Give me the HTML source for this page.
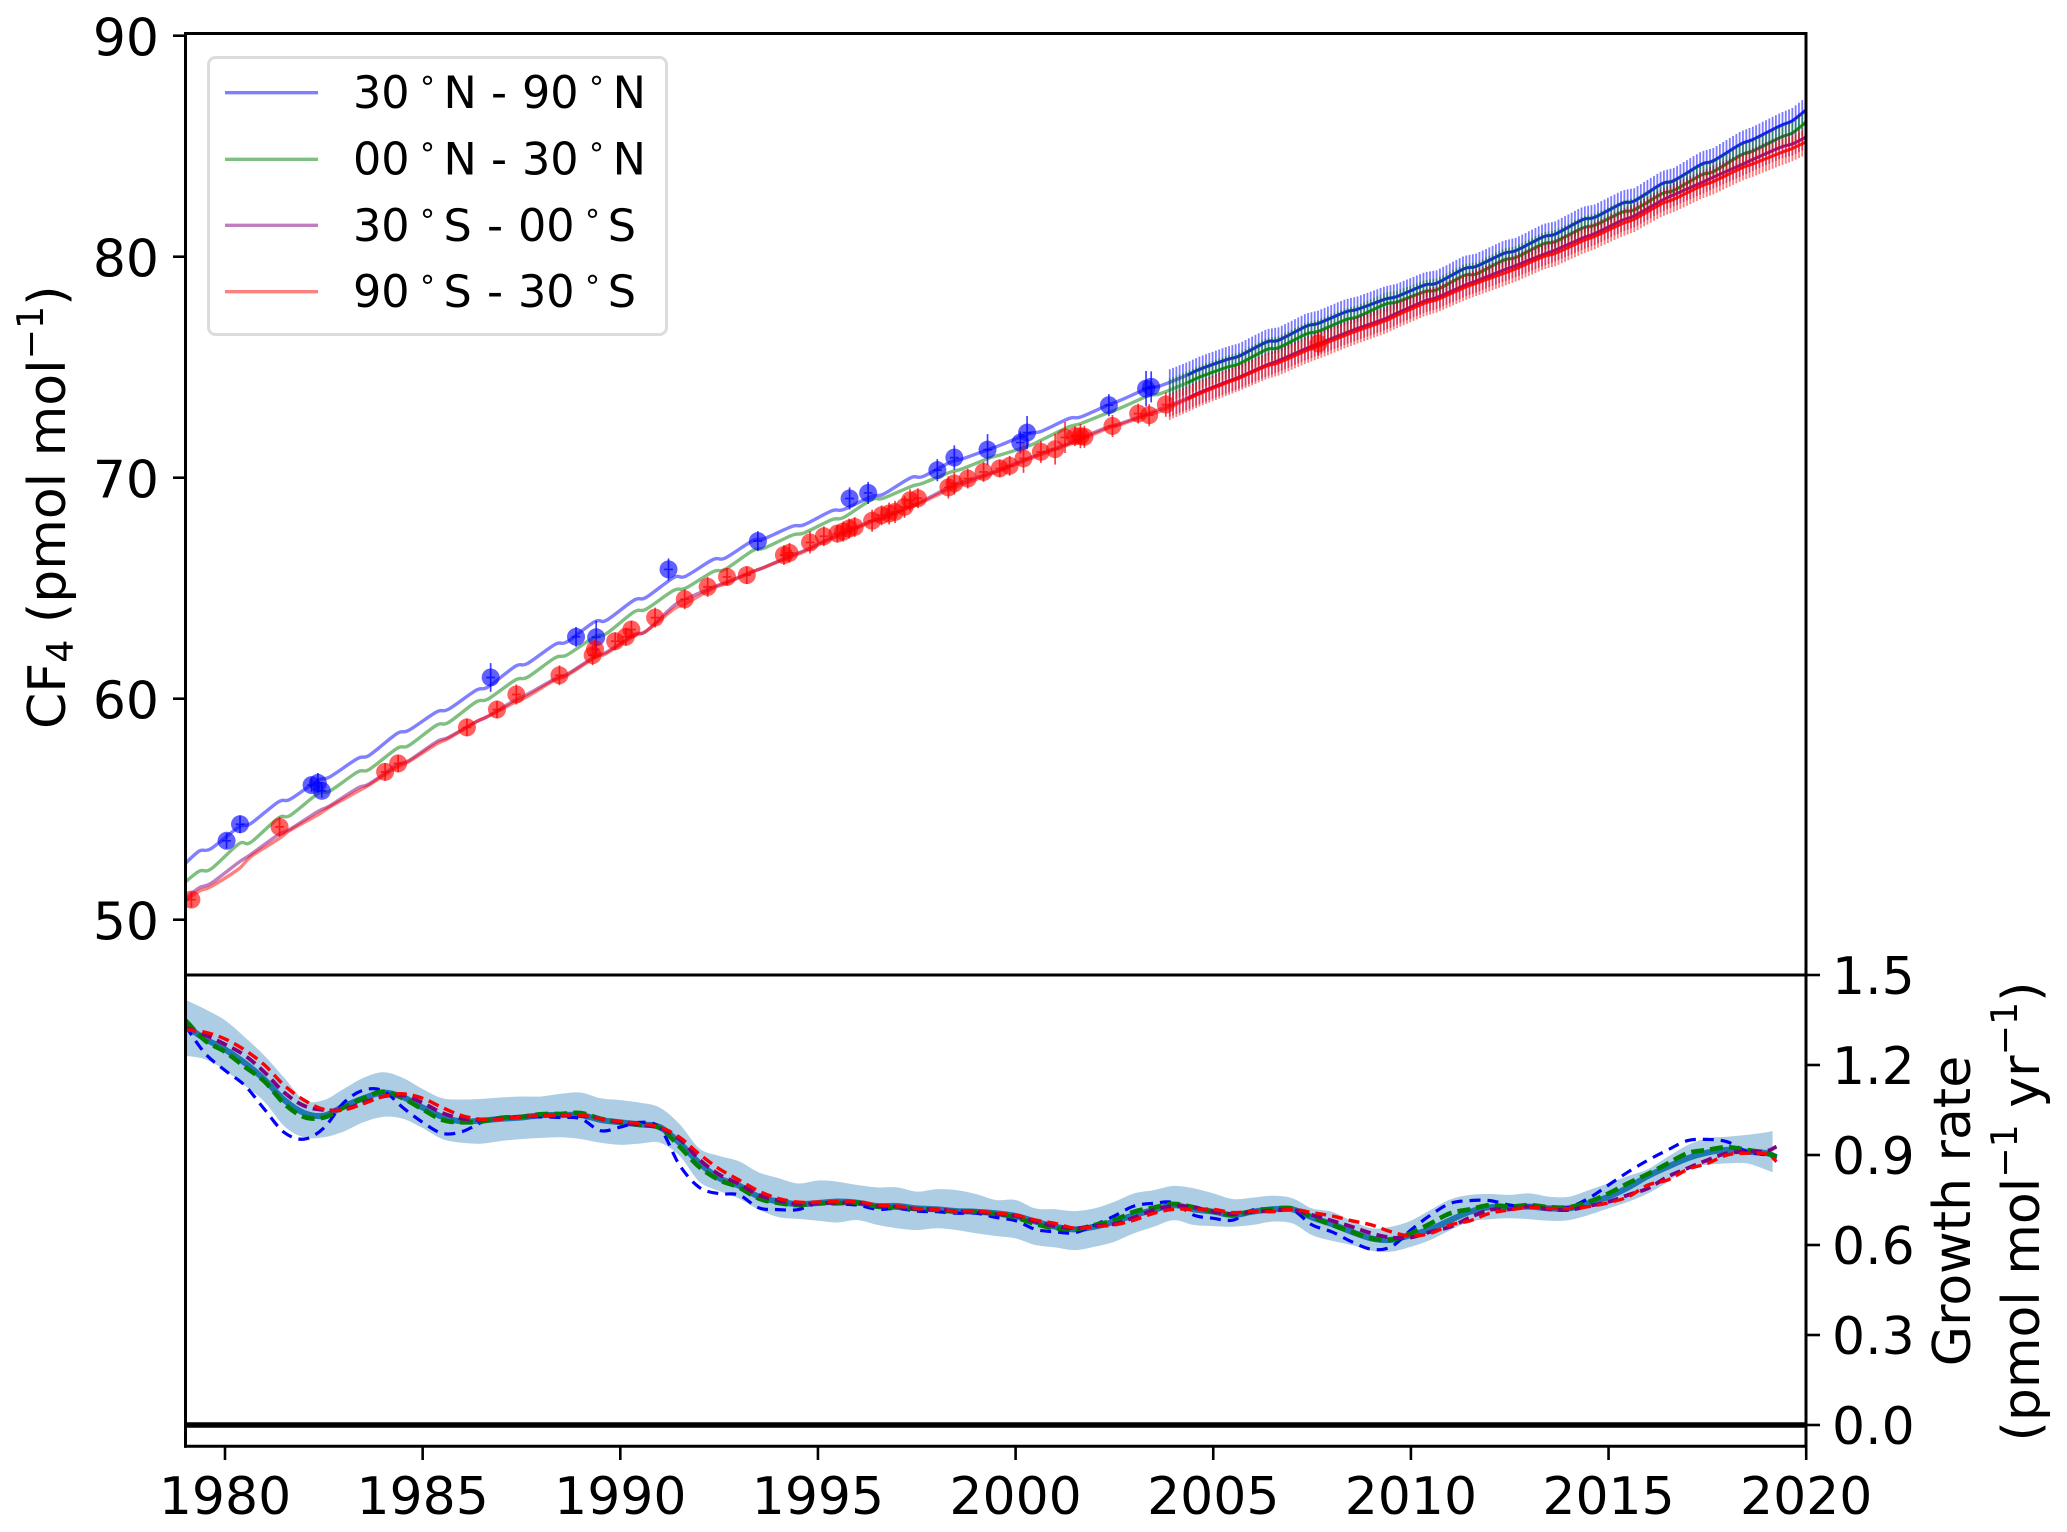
<!DOCTYPE html>
<html lang="en">
<head>
<meta charset="utf-8">
<title>CF4 mole fraction and growth rate</title>
<style>
html,body{margin:0;padding:0;background:#fff}
svg{display:block}
text{font-family:"DejaVu Sans","Liberation Sans",sans-serif;fill:#000}
</style>
</head>
<body>
<svg id="chart" xmlns="http://www.w3.org/2000/svg" width="2067" height="1532" viewBox="0 0 2067 1532">
<defs>
<clipPath id="top-clip"><rect x="185.5" y="33.5" width="1620.5" height="941.5"/></clipPath>
<clipPath id="low-clip"><rect x="185.5" y="975" width="1620.5" height="471.5"/></clipPath>
</defs>
<rect width="2067" height="1532" fill="#fff"/>
<g id="top-marks" clip-path="url(#top-clip)"></g>
<g id="low-marks" clip-path="url(#low-clip)"></g>
<line x1="185" x2="1806" y1="1425" y2="1425" stroke="#000" stroke-width="5.6"/>
<g id="axes" stroke="#000" stroke-width="3" fill="none">
<line x1="185.5" x2="185.5" y1="32" y2="1447.8"/>
<line x1="1806" x2="1806" y1="32" y2="1447.8"/>
<line x1="184" x2="1807.5" y1="33.5" y2="33.5"/>
<line x1="184" x2="1807.5" y1="975" y2="975"/>
<line x1="184" x2="1807.5" y1="1446.3" y2="1446.3"/>
</g>
<g id="ticks"></g>
<text transform="translate(65,729) rotate(-90)" font-size="52">CF<tspan font-size="36.4" dy="8">4</tspan><tspan dy="-8"> (pmol mol</tspan><tspan font-size="36.4" dy="-22">−1</tspan><tspan dy="22">)</tspan></text>
<text transform="translate(1970,1211) rotate(-90)" font-size="52" text-anchor="middle">Growth rate</text>
<text transform="translate(2039,1211.5) rotate(-90)" font-size="52" text-anchor="middle">(pmol mol<tspan font-size="36.4" dy="-22">−1</tspan><tspan dy="22"> yr</tspan><tspan font-size="36.4" dy="-22">−1</tspan><tspan dy="22">)</tspan></text>
<g>
<rect x="208.5" y="57.5" width="458" height="277" rx="7" fill="#fff" fill-opacity=".85" stroke="#dcdcdc" stroke-width="3"/>
<line x1="225" x2="318" y1="92.7" y2="92.7" stroke="#00f" stroke-opacity=".5" stroke-width="3.4"/>
<line x1="225" x2="318" y1="159.3" y2="159.3" stroke="#008000" stroke-opacity=".5" stroke-width="3.4"/>
<line x1="225" x2="318" y1="225.3" y2="225.3" stroke="#800080" stroke-opacity=".5" stroke-width="3.4"/>
<line x1="225" x2="318" y1="291.7" y2="291.7" stroke="#f00" stroke-opacity=".5" stroke-width="3.4"/>
<text font-size="44.5" y="108"><tspan x="353">30</tspan><tspan x="420" dy="-10" font-size="30">°</tspan><tspan x="443.5" dy="10">N</tspan><tspan x="491">-</tspan><tspan x="522">90</tspan><tspan x="589" dy="-10" font-size="30">°</tspan><tspan x="612.6" dy="10">N</tspan></text>
<text font-size="44.5" y="174.5"><tspan x="353">00</tspan><tspan x="420" dy="-10" font-size="30">°</tspan><tspan x="443.5" dy="10">N</tspan><tspan x="491">-</tspan><tspan x="522">30</tspan><tspan x="589" dy="-10" font-size="30">°</tspan><tspan x="612.6" dy="10">N</tspan></text>
<text font-size="44.5" y="241"><tspan x="353">30</tspan><tspan x="420" dy="-10" font-size="30">°</tspan><tspan x="443.5" dy="10">S</tspan><tspan x="487">-</tspan><tspan x="518">00</tspan><tspan x="585" dy="-10" font-size="30">°</tspan><tspan x="607.7" dy="10">S</tspan></text>
<text font-size="44.5" y="307"><tspan x="353">90</tspan><tspan x="420" dy="-10" font-size="30">°</tspan><tspan x="443.5" dy="10">S</tspan><tspan x="487">-</tspan><tspan x="518">30</tspan><tspan x="585" dy="-10" font-size="30">°</tspan><tspan x="607.7" dy="10">S</tspan></text>
</g>
</svg>
<script>
/* ---------- axis tick labels ---------- */
const xTickYears = [1980,1985,1990,1995,2000,2005,2010,2015,2020];
const concentrationTicks = [50,60,70,80,90];
const growthTicks = ['0.0','0.3','0.6','0.9','1.2','1.5'];

/* ---------- upper panel: zonal mean lines (pmol/mol) ---------- */
const lineTimes = [1979,
1979.35,1979.65,1980.35,1980.65,1981.35,1981.65,1982.35,1982.65,1983.35,1983.65,
1984.35,1984.65,1985.35,1985.65,1986.35,1986.65,1987.35,1987.65,1988.35,1988.65,
1989.35,1989.65,1990.35,1990.65,1991.35,1991.65,1992.35,1992.65,1993.35,1993.65,
1994.35,1994.65,1995.35,1995.65,1996.35,1996.65,1997.35,1997.65,1998.35,1998.65,
1999.35,1999.65,2000.35,2000.65,2001.35,2001.65,2002.35,2002.65,2003.35,2003.65,
2004.35,2004.65,2005.35,2005.65,2006.35,2006.65,2007.35,2007.65,2008.35,2008.65,
2009.35,2009.65,2010.35,2010.65,2011.35,2011.65,2012.35,2012.65,2013.35,2013.65,
2014.35,2014.65,2015.35,2015.65,2016.35,2016.65,2017.35,2017.65,2018.35,2018.65,
2019.35,2019.65,2020];
const north3090 = [52.55,
53.11,53.22,54.2,54.35,55.33,55.45,56.3,56.46,57.29,57.44,
58.42,58.57,59.4,59.52,60.38,60.53,61.47,61.59,62.46,62.57,
63.48,63.55,64.46,64.58,65.48,65.54,66.3,66.36,67.15,67.25,
67.8,67.87,68.5,68.56,69.15,69.25,70.0,70.05,70.7,70.85,
71.3,71.5,72.0,72.1,72.68,72.75,73.3,73.5,74.05,74.15,
74.65,74.9,75.35,75.5,76.14,76.22,76.85,76.98,77.5,77.62,
78.08,78.2,78.72,78.8,79.46,79.56,80.15,80.27,80.9,81.02,
81.68,81.78,82.42,82.52,83.3,83.44,84.18,84.34,85.1,85.3,
85.93,86.15,86.65];
const north0030 = [51.71,
52.2,52.3,53.43,53.5,54.6,54.72,55.7,55.82,56.68,56.8,
57.75,57.88,58.8,58.92,59.85,59.98,60.85,60.97,61.85,61.98,
62.8,62.95,63.93,64.05,64.9,65.0,65.75,65.85,66.7,66.82,
67.4,67.5,68.1,68.2,69.0,69.07,69.6,69.75,70.25,70.4,
70.9,71.05,71.45,71.7,72.3,72.45,72.95,73.15,73.7,73.8,
74.3,74.55,75.0,75.15,75.8,75.88,76.5,76.62,77.15,77.28,
77.85,77.95,78.42,78.5,79.15,79.22,79.85,79.96,80.58,80.68,
81.3,81.42,82.02,82.12,82.85,83.0,83.7,83.85,84.6,84.78,
85.4,85.6,86.1];
const south3000 = [50.95,
51.45,51.65,52.6,52.95,53.85,54.1,54.9,55.15,55.95,56.15,
57.0,57.2,58.05,58.25,58.95,59.2,59.95,60.2,60.9,61.1,
61.9,62.1,62.9,63.05,64.2,64.5,65.05,65.25,65.75,65.95,
66.5,66.7,67.3,67.5,68.05,68.2,68.7,68.95,69.6,69.8,
70.2,70.4,70.9,71.1,71.55,71.8,72.3,72.45,72.9,73.1,
73.6,73.85,74.35,74.55,75.1,75.3,75.85,76.05,76.55,76.75,
77.2,77.45,78.0,78.15,78.7,78.9,79.4,79.6,80.1,80.3,
80.85,81.05,81.65,81.85,82.55,82.8,83.35,83.6,84.15,84.4,
84.95,85.1,85.42];
const south9030 = [50.85,
51.3,51.5,52.3,52.85,53.65,54.05,54.75,55.1,55.8,56.1,
56.9,57.15,57.95,58.2,58.95,59.2,59.85,60.1,60.85,61.05,
61.85,62.05,62.85,63.05,64.05,64.3,65.0,65.2,65.75,65.95,
66.45,66.65,67.25,67.45,68.0,68.15,68.7,68.9,69.5,69.7,
70.15,70.35,70.85,71.05,71.5,71.72,72.25,72.4,72.85,73.0,
73.55,73.8,74.3,74.5,75.05,75.2,75.75,75.95,76.45,76.65,
77.1,77.35,77.9,78.05,78.6,78.8,79.25,79.45,80.0,80.15,
80.72,80.92,81.5,81.7,82.4,82.6,83.2,83.4,84.0,84.2,
84.7,84.9,85.2];

/* ---------- upper panel: firn / sample points ---------- */
const blueDotYears = [1980.04,1980.38,1982.19,1982.35,1982.45,1986.72,1988.88,1989.39,1991.22,1993.48,1995.8,1996.27,1998.02,1998.45,1999.29,2000.12,2000.29,2002.36,2003.3,2003.43];
const blueDotValues = [53.57,54.32,56.09,56.19,55.83,60.96,62.8,62.78,65.85,67.13,69.06,69.31,70.34,70.91,71.27,71.59,72.04,73.28,74.03,74.11];
const blueDotErrors = [.35,.4,.3,.45,.3,.65,.45,.75,.5,.45,.5,.5,.5,.55,.7,.5,.75,.5,.8,.7];
const redDotYears = [1979.15,1981.38,1984.05,1984.38,1986.12,1986.88,1987.37,1988.46,1989.3,1989.36,1989.87,1990.14,1990.28,1990.88,1991.63,1992.21,1992.7,1993.2,1994.14,1994.28,1994.8,1995.15,1995.49,1995.64,1995.79,1995.93,1996.37,1996.61,1996.8,1996.95,1997.19,1997.33,1997.53,1998.3,1998.45,1998.79,1999.19,1999.6,1999.85,2000.2,2000.64,2001.0,2001.25,2001.5,2001.64,2001.74,2002.45,2003.1,2003.38,2003.8,2007.66];
const redDotValues = [50.91,54.2,56.69,57.07,58.7,59.51,60.19,61.06,61.97,62.24,62.6,62.8,63.13,63.67,64.5,65.06,65.51,65.59,66.5,66.6,67.07,67.35,67.47,67.56,67.7,67.77,68.05,68.3,68.38,68.45,68.68,68.98,69.07,69.56,69.74,69.96,70.26,70.42,70.54,70.87,71.17,71.29,71.82,71.88,71.88,71.85,72.34,72.9,72.83,73.31,76.07];
const redDotErrors = [.35,.45,.4,.4,.4,.4,.45,.45,.45,.45,.4,.4,.4,.45,.45,.45,.4,.4,.45,.45,.5,.45,.4,.45,.45,.45,.5,.45,.5,.5,.5,.5,.45,.5,.5,.45,.45,.4,.45,.65,.5,.7,.7,.45,.55,.5,.5,.45,.5,.55,.55];

/* half-height of the dense monthly error bars after 2004, one per band */
const errorHalfHeights = [.58,.52,.52,.58];
const errorBarFirstYear = [2003.9];

/* ---------- lower panel: growth rate (pmol/mol/yr) ---------- */
const growthTimes = [1979,1979.5,1980,1980.5,1981,1981.5,1982,1982.5,1983,1983.5,1984,1984.5,1985,1985.5,1986,1986.5,1987,1987.5,1988,1988.5,1989,1989.5,1990,1990.5,1991,1991.5,1992,1992.5,1993,1993.5,1994,1994.5,1995,1995.5,1996,1996.5,1997,1997.5,1998,1998.5,1999,1999.5,2000,2000.5,2001,2001.5,2002,2002.5,2003,2003.5,2004,2004.5,2005,2005.5,2006,2006.5,2007,2007.5,2008,2008.5,2009,2009.5,2010,2010.5,2011,2011.5,2012,2012.5,2013,2013.5,2014,2014.5,2015,2015.5,2016,2016.5,2017,2017.5,2018,2018.5,2019,2019.25];
const growthMean = [1.33,1.287,1.252,1.207,1.151,1.083,1.04,1.031,1.062,1.089,1.108,1.093,1.058,1.027,1.012,1.015,1.021,1.025,1.033,1.033,1.033,1.017,1.009,1.002,.993,.94,.873,.823,.798,.761,.745,.736,.74,.745,
.741,.73,.73,.722,.719,.713,.711,.706,.697,.678,.661,.652,.661,.678,.7,.717,.733,
.719,.711,.7,.711,.719,.719,.692,.67,.644,.622,.617,.633,.653,.683,.711,.726,.726,.728,
.722,.722,.739,.761,.792,.83,.861,.889,.908,.917,.911,.906,.892];
const growthUpper = [1.417,1.386,1.349,1.293,1.231,1.157,1.083,1.083,1.12,1.157,1.176,1.157,1.12,1.089,1.085,1.087,1.092,1.095,1.095,1.104,1.108,1.089,1.083,1.074,1.058,1.003,.922,.897,.879,.842,.823,.805,.815,.811,
.8,.792,.792,.778,.786,.783,.77,.75,.75,.722,.719,.713,.722,.744,.772,.783,.797,
.789,.772,.753,.758,.764,.756,.722,.711,.681,.656,.661,.681,.717,.752,.767,.77,.767,.772,
.761,.761,.783,.806,.83,.853,.894,.933,.956,.961,.967,.976,.98];
const growthLower = [1.231,1.219,1.182,1.132,1.077,.996,.959,.959,.978,1.009,1.027,1.021,.99,.953,.941,.938,.947,.953,.957,.959,.953,.941,.934,.938,.941,.897,.811,.78,.755,.718,.693,.687,.681,.675,
.683,.667,.656,.65,.656,.65,.639,.63,.622,.6,.592,.583,.594,.611,.639,.661,.683,
.667,.663,.661,.667,.678,.672,.633,.614,.6,.581,.578,.594,.617,.65,.678,.686,.689,.686,
.681,.683,.7,.722,.744,.772,.811,.856,.867,.872,.872,.85,.842];
const growthNorth3090 = [1.33,1.238,1.182,1.132,1.052,.975,.953,.99,1.074,1.116,1.114,1.058,1.009,.972,.978,1.009,1.025,1.027,1.027,1.025,1.021,.981,.993,1.009,.99,.866,.792,.771,.767,.724,.718,.718,.74,.737,
.733,.719,.722,.713,.711,.706,.706,.692,.681,.652,.644,.641,.667,.697,.73,.739,.741,
.7,.689,.683,.717,.719,.717,.667,.644,.611,.586,.594,.65,.7,.739,.748,.748,.733,.728,
.722,.726,.756,.8,.844,.883,.917,.948,.952,.944,.911,.9,.889];
const growthNorth0030 = [1.349,1.281,1.244,1.194,1.145,1.071,1.027,1.025,1.058,1.089,1.111,1.089,1.052,1.017,1.009,1.012,1.024,1.027,1.036,1.037,1.04,1.021,1.009,1.0,.99,.928,.86,.817,.792,.755,.74,.733,.739,.739,
.741,.728,.725,.72,.717,.711,.711,.703,.692,.67,.656,.652,.667,.683,.711,.725,.737,
.726,.711,.7,.713,.72,.722,.694,.667,.644,.622,.617,.639,.672,.706,.719,.733,.728,.733,
.726,.726,.744,.772,.806,.837,.872,.906,.917,.926,.917,.906,.894];
const growthSouth3000 = [1.325,1.3,1.269,1.232,1.176,1.108,1.064,1.05,1.052,1.074,1.095,1.099,1.074,1.04,1.021,1.017,1.021,1.027,1.031,1.033,1.031,1.021,1.009,1.0,.99,.953,.885,.835,.804,.767,.749,.736,.74,.741,
.741,.73,.728,.72,.719,.713,.711,.703,.697,.678,.663,.656,.663,.67,.692,.717,.73,
.726,.711,.703,.711,.714,.717,.7,.681,.661,.639,.625,.625,.644,.661,.692,.717,.719,.728,
.719,.717,.73,.744,.767,.789,.828,.856,.883,.906,.911,.914,.928];
const growthSouth9030 = [1.318,1.309,1.287,1.25,1.2,1.132,1.083,1.052,1.05,1.071,1.095,1.104,1.089,1.058,1.031,1.019,1.02,1.027,1.031,1.033,1.033,1.021,1.012,1.005,.993,.959,.903,.854,.817,.78,.755,.743,.743,.745,
.745,.733,.73,.722,.719,.713,.714,.706,.7,.683,.672,.656,.661,.667,.683,.706,.719,
.719,.719,.708,.713,.711,.719,.708,.697,.681,.667,.644,.63,.639,.667,.681,.706,.717,.726,
.722,.722,.728,.741,.761,.8,.817,.852,.872,.9,.906,.903,.878];

/* ---------- axis functions ---------- */
const xOf = yr => 225 + 39.53 * (yr - 1980);
const yTop = v => 35.7 + (90 - v) * 22.1;
const yLow = v => 1425 - v * 300;

const NS = 'http://www.w3.org/2000/svg';
const topG = document.getElementById('top-marks');
const lowG = document.getElementById('low-marks');
const tickG = document.getElementById('ticks');

function make(tag, parent, attrs) {
  const el = document.createElementNS(NS, tag);
  for (const k in attrs) el.setAttribute(k, attrs[k]);
  parent.appendChild(el);
  return el;
}
function smoothPath(xs, ys, noMove) {
  let d = noMove ? 'L' + xs[0].toFixed(2) + ' ' + ys[0].toFixed(2) : 'M' + xs[0].toFixed(2) + ' ' + ys[0].toFixed(2);
  for (let i = 0; i < xs.length - 1; i++) {
    const p = Math.max(i - 1, 0), n = Math.min(i + 2, xs.length - 1);
    const c1x = xs[i] + (xs[i + 1] - xs[p]) / 6, c1y = ys[i] + (ys[i + 1] - ys[p]) / 6;
    const c2x = xs[i + 1] - (xs[n] - xs[i]) / 6, c2y = ys[i + 1] - (ys[n] - ys[i]) / 6;
    d += 'C' + c1x.toFixed(2) + ' ' + c1y.toFixed(2) + ' ' + c2x.toFixed(2) + ' ' + c2y.toFixed(2) + ' ' + xs[i + 1].toFixed(2) + ' ' + ys[i + 1].toFixed(2);
  }
  return d;
}
function lineValueAt(times, vals, t) {
  let i = 0;
  while (i < times.length - 2 && times[i + 1] < t) i++;
  const f = (t - times[i]) / (times[i + 1] - times[i]);
  return vals[i] + (vals[i + 1] - vals[i]) * f;
}

/* ---------- upper panel drawing ---------- */
const topColors = ['#0000ff', '#008000', '#800080', '#ff0000'];
const topSeries = [north3090, north0030, south3000, south9030];
const seriesSlugs = ['30n-90n', '00n-30n', '30s-00s', '90s-30s'];

topSeries.forEach((vals, s) => {
  const xs = lineTimes.map(xOf), ys = vals.map(yTop);
  const line = make('path', topG, { d: smoothPath(xs, ys), fill: 'none', stroke: topColors[s], 'stroke-opacity': .5, 'stroke-width': 3.4, 'stroke-linejoin': 'round' });
  
  

  /* monthly error bars (2004 onward) sit on the plotted line of this band */
  let bars = '';
  for (let m = 0; m <= 194; m++) {
    const t = errorBarFirstYear[0] + m / 12;
    const v = lineValueAt(lineTimes, vals, t);
    bars += 'M' + xOf(t).toFixed(2) + ' ' + yTop(v + errorHalfHeights[s]).toFixed(2) + 'V' + yTop(v - errorHalfHeights[s]).toFixed(2);
  }
  const barPath = make('path', topG, { d: bars, fill: 'none', stroke: topColors[s], 'stroke-opacity': .52, 'stroke-width': 1.8 });
  
  

  const idx = lineTimes.findIndex(t => t >= errorBarFirstYear[0]);
  const strong = make('path', topG, { d: smoothPath(xs.slice(idx), ys.slice(idx)), fill: 'none', stroke: topColors[s], 'stroke-opacity': .75, 'stroke-width': 2.6, 'stroke-linejoin': 'round' });
  
  
});

function drawDots(years, values, errors, color, name) {
  years.forEach((yr, i) => {
    const cx = xOf(yr), cy = yTop(values[i]);
    const dot = make('circle', topG, { cx: cx, cy: cy, r: 9, fill: color, 'fill-opacity': .62 });
    
    
    const bar = make('path', topG, {
      d: 'M' + cx.toFixed(2) + ' ' + yTop(values[i] + errors[i]).toFixed(2) + 'V' + yTop(values[i] - errors[i]).toFixed(2) +
         'M' + xOf(yr - .11).toFixed(2) + ' ' + cy.toFixed(2) + 'H' + xOf(yr + .11).toFixed(2),
      fill: 'none', stroke: color, 'stroke-opacity': .75, 'stroke-width': 1.7
    });
    
    
  });
}
drawDots(blueDotYears, blueDotValues, blueDotErrors, '#0000ff', 'northern');
drawDots(redDotYears, redDotValues, redDotErrors, '#ff0000', 'southern');

/* ---------- lower panel drawing ---------- */
const bandXs = growthTimes.map(t => t === 2019.25 ? xOf(2019.15) : xOf(t));
const band = make('path', lowG, {
  d: smoothPath(bandXs, growthUpper.map(yLow)) + smoothPath(bandXs.slice().reverse(), growthLower.map(yLow).reverse(), true) + 'Z',
  fill: '#1f77b4', 'fill-opacity': .37, stroke: 'none'
});



const growthXs = growthTimes.map(xOf);
const meanLine = make('path', lowG, { d: smoothPath(growthXs, growthMean.map(yLow)), fill: 'none', stroke: '#1f77b4', 'stroke-width': 6 });



const growthSeries = [growthNorth3090, growthNorth0030, growthSouth3000, growthSouth9030];
const growthWidths = [3.2, 4.6, 3.8, 3.4];
const growthDashes = ['11 7', '13 6', '11 6', '11 6'];
growthSeries.forEach((vals, s) => {
  const g = make('path', lowG, { d: smoothPath(growthXs, vals.map(yLow)), fill: 'none', stroke: topColors[s], 'stroke-width': growthWidths[s], 'stroke-dasharray': growthDashes[s] });
  
  
});

/* ---------- ticks ---------- */
xTickYears.forEach(yr => {
  const x = xOf(yr);
  const t = make('line', tickG, { x1: x, x2: x, y1: 1446, y2: 1460, stroke: '#000', 'stroke-width': 2.6 });
  
  
  const l = make('text', tickG, { x: x, y: 1514, 'font-size': 52, 'text-anchor': 'middle' });
  l.textContent = yr;
  
  
});
concentrationTicks.forEach(v => {
  const y = yTop(v);
  const t = make('line', tickG, { x1: 173, x2: 185.5, y1: y, y2: y, stroke: '#000', 'stroke-width': 2.6 });
  
  
  const l = make('text', tickG, { x: 159, y: y + 20, 'font-size': 52, 'text-anchor': 'end' });
  l.textContent = v;
  
  
});
growthTicks.forEach(v => {
  const y = yLow(parseFloat(v));
  const t = make('line', tickG, { x1: 1806, x2: 1820, y1: y, y2: y, stroke: '#000', 'stroke-width': 2.6 });
  
  
  const l = make('text', tickG, { x: 1832, y: y + 19, 'font-size': 52 });
  l.textContent = v;
  
  
});
</script>
</body>
</html>
